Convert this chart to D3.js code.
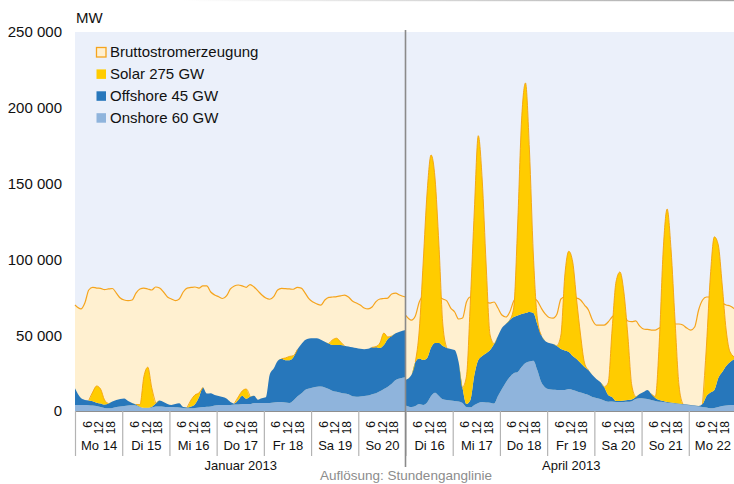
<!DOCTYPE html>
<html>
<head>
<meta charset="utf-8">
<script src="https://cdn.jsdelivr.net/npm/d3@7"></script>
<style>
body { margin: 0; background: #fff; }
svg { display: block; }
</style>
</head>
<body>
<svg id="chart" width="734" height="484"></svg>
<script>
// Stundenwerte in MW, je Tag die ungeraden Stunden 1, 3, ..., 23
const weekLabels = ["Januar 2013", "April 2013"];
const daysJan = ["Mo 14", "Di 15", "Mi 16", "Do 17", "Fr 18", "Sa 19", "So 20"];
const daysApr = ["Di 16", "Mi 17", "Do 18", "Fr 19", "Sa 20", "So 21", "Mo 22"];
const hourTicks = [6, 12, 18];
const yTicks = [0, 50000, 100000, 150000, 200000, 250000];
const legendLabels = ["Bruttostromerzeugung", "Solar 275 GW", "Offshore 45 GW", "Onshore 60 GW"];

const totalJan = [
  69900, 67300, 71200, 79800, 81600, 81100, 80900, 80100, 80500, 80800, 77800, 74500,
  73200, 72800, 73200, 77800, 80500, 81100, 80500, 79800, 81800, 81100, 78500, 75200,
  73900, 72800, 73900, 78500, 81100, 81500, 81800, 81100, 82500, 82500, 78500, 76500,
  75400, 74200, 75900, 80500, 82500, 83100, 82500, 81600, 83400, 81800, 79200, 76500,
  74500, 73700, 75400, 79800, 80900, 80700, 80500, 80300, 81500, 81100, 77800, 73900,
  71900, 70600, 69900, 73200, 74900, 75200, 75500, 75900, 76500, 75200, 72600, 71200,
  69900, 67900, 67300, 68600, 72200, 73900, 74200, 74500, 77200, 77800, 76500, 75200
];
const onshoreJan = [
  4000, 4000, 4000, 3800, 3600, 3300, 2600, 2000, 1800, 2000, 2600, 3000,
  3300, 3600, 3800, 3600, 2600, 2000, 2000, 2300, 3000, 3000, 2800, 2600,
  2600, 2400, 2300, 2000, 1800, 1800, 2000, 2300, 2600, 2800, 3000, 3600,
  4000, 4000, 4000, 4000, 4300, 4300, 4600, 4600, 4600, 5300, 5300, 5300,
  5300, 5300, 5600, 5900, 5900, 5600, 5300, 7000, 9500, 11500, 13900, 14800,
  15500, 16000, 16200, 15500, 14500, 13200, 12700, 12000, 11500, 11000, 9700, 9400,
  9600, 9900, 10200, 11000, 11700, 13000, 14500, 16000, 18000, 20400, 21400, 22200
];
const offshoreJan = [
  11000, 4500, 3300, 3200, 2900, 2200, 2400, 2300, 3200, 4300, 4700, 4900,
  4900, 3000, 1500, 700, 200, 200, 200, 500, 2000, 4000, 3200, 2000,
  1400, 2200, 2800, 600, 500, 1200, 2500, 6700, 12900, 8700, 8700, 6900,
  5900, 5200, 4200, 2000, 700, 3000, 5400, 3400, 4800, 4700, 2200, 3100,
  3700, 18700, 22400, 27100, 28600, 27900, 28200, 28500, 31000, 32500, 32900, 33000,
  32500, 32000, 30800, 30200, 30000, 30300, 30800, 31500, 31500, 31500, 32300, 32100,
  31400, 30800, 30800, 31000, 30300, 28500, 29000, 31500, 31500, 30900, 30900, 31200
];
const solarJan = [
  0, 0, 0, 0, 6000, 11000, 9500, 3000, 0, 0, 0, 0,
  0, 0, 0, 0, 1400, 20400, 26700, 12600, 0, 0, 0, 0,
  0, 0, 0, 0, 0, 4300, 6100, 2900, 0, 0, 0, 0,
  0, 0, 0, 0, 0, 2000, 3200, 6500, 0, 0, 0, 0,
  0, 0, 0, 0, 0, 1500, 2500, 1000, 0, 0, 0, 0,
  0, 0, 0, 0, 0, 3500, 4500, 2000, 0, 0, 0, 0,
  0, 0, 0, 0, 500, 3400, 7900, 1300, 0, 0, 0, 0
];

const totalApr = [
  63300, 60000, 62700, 71900, 75900, 76500, 76500, 75900, 75200, 73900, 72600, 67900,
  65300, 60700, 61300, 71900, 75200, 75200, 74500, 73200, 71900, 71200, 71900, 67900,
  63300, 62000, 65300, 72600, 75200, 75900, 75900, 75200, 74500, 72600, 67900, 64000,
  61700, 61300, 64000, 73900, 75200, 75200, 74500, 74500, 73200, 69900, 66600, 60000,
  56700, 56700, 56700, 58700, 62000, 64000, 64600, 63300, 59400, 58900, 59400, 56100,
  54100, 53800, 53400, 53400, 54700, 56100, 56700, 57400, 57400, 57400, 56700, 54700,
  53400, 55400, 66600, 73200, 75200, 75200, 74500, 73200, 71200, 69900, 69300, 66600
];
const onshoreApr = [
  3600, 2600, 3300, 4600, 4000, 5600, 9900, 12100, 9900, 7700, 7300, 6900,
  6600, 6300, 5300, 2600, 2400, 4000, 5300, 5900, 5600, 5500, 4900, 9900,
  14500, 18800, 22400, 24900, 25700, 29000, 31700, 32700, 33200, 27000, 19100, 15500,
  14300, 14000, 13900, 13900, 13900, 14500, 13900, 13100, 12200, 11400, 10600, 9200,
  8600, 7900, 6900, 6100, 6200, 5900, 5900, 6000, 6100, 6500, 7900, 8400,
  8200, 7900, 7300, 6600, 6100, 6000, 5500, 5200, 4900, 4600, 4300, 4000,
  3600, 3300, 3000, 2600, 2300, 1800, 2000, 2600, 3300, 3600, 4000, 4000
];
const offshoreApr = [
  16800, 21100, 29000, 30000, 29600, 29400, 32000, 32800, 35000, 35200, 34300, 34000,
  33600, 26000, 9900, 2000, 4900, 19700, 28300, 30400, 32500, 34700, 39300, 39600,
  40200, 38600, 37600, 37100, 37300, 35000, 32900, 32600, 31400, 30400, 31000, 30700,
  30600, 30200, 29000, 27000, 26000, 24400, 22400, 21200, 19500, 17600, 16400, 14500,
  12500, 11200, 8900, 4500, 3000, 700, 700, 900, 1200, 1100, 1300, 2800,
  4300, 6000, 3900, 2000, 1200, 600, 400, 400, 400, 300, 300, 300,
  400, 300, 300, 2000, 7600, 10400, 11900, 19200, 22400, 26100, 28300, 31000
];
const solarApr = [
  0, 0, 0, 18800, 64700, 109500, 127000, 108800, 64600, 13800, 0, 0,
  0, 0, 0, 18400, 65900, 108900, 148000, 116100, 58200, 9900, 0, 0,
  0, 0, 0, 6000, 59700, 127900, 151800, 106900, 38300, 3900, 0, 0,
  0, 0, 0, 9200, 49800, 66500, 62000, 38900, 18400, 2700, 0, 0,
  0, 0, 0, 7900, 44200, 78500, 85100, 71600, 42800, 9500, 0, 0,
  0, 0, 0, 1000, 38200, 99600, 127300, 100600, 54700, 12200, 0, 0,
  0, 0, 0, 0, 33600, 77500, 101000, 87700, 57400, 23700, 6600, 0
];

const weeks = [
  {label: weekLabels[0], days: daysJan, total: totalJan, onshore: onshoreJan, offshore: offshoreJan, solar: solarJan},
  {label: weekLabels[1], days: daysApr, total: totalApr, onshore: onshoreApr, offshore: offshoreApr, solar: solarApr}
];

const width = 734, height = 484;
const font = "'Liberation Sans', Arial, Helvetica, sans-serif";
const colors = {
  plot: "#ebf0fa", cream: "#fff0d0", line: "#f5a41d",
  solar: "#ffcc00", solarEdge: "#f3a20c", offshore: "#2777bb", onshore: "#8fb4dc"
};

const x = d3.scaleLinear().domain([0, 336]).range([75, 736]);
const y = d3.scaleLinear().domain([0, 250000]).range([411, 32]);
const fmt = d3.formatLocale({decimal: ",", thousands: " ", grouping: [3], currency: ["", " €"]}).format(",");

const svg = d3.select("#chart").attr("font-family", font);

// graue Linie oben, nach links auslaufend
const grad = svg.append("defs").append("linearGradient").attr("id", "topline");
grad.append("stop").attr("offset", "25%").attr("stop-color", "#fff");
grad.append("stop").attr("offset", "100%").attr("stop-color", "#a6a6a6");
svg.append("rect").attr("x", 0).attr("y", 0).attr("width", width).attr("height", 1.2).attr("fill", "url(#topline)");

svg.append("rect")
  .attr("x", x(0)).attr("y", y(250000))
  .attr("width", x(336) - x(0)).attr("height", y(0) - y(250000))
  .attr("fill", colors.plot);

const hours = d3.range(84).map(i => Math.floor(i / 12) * 24 + (i % 12) * 2 + 1);

weeks.forEach((w, wi) => {
  const off = wi * 168;
  const rows = hours.map((h, i) => ({
    t: off + h, total: w.total[i], onshore: w.onshore[i], offshore: w.offshore[i], solar: w.solar[i]
  }));
  const n = rows.length;
  const px = (t, i) => i === 0 ? x(off) : i === n - 1 ? x(off + 168) : x(t);

  const g = svg.append("g");

  g.append("path")
    .datum(rows)
    .attr("fill", colors.cream)
    .attr("d", d3.area().curve(d3.curveMonotoneX)
      .x((d, i) => px(d.t, i)).y0(y(0)).y1(d => y(d.total)));

  g.append("path")
    .datum(rows)
    .attr("fill", "none")
    .attr("stroke", colors.line)
    .attr("stroke-width", 1.2)
    .attr("d", d3.line().curve(d3.curveMonotoneX)
      .x((d, i) => px(d.t, i)).y(d => y(d.total)));

  const stacked = d3.stack().keys(["onshore", "offshore", "solar"])(rows);
  const area = d3.area().curve(d3.curveMonotoneX)
    .x((d, i) => px(d.data.t, i)).y0(d => y(d[0])).y1(d => y(d[1]));

  g.selectAll(".layer")
    .data(stacked)
    .join("path")
    .attr("class", "layer")
    .attr("fill", d => colors[d.key])
    .attr("d", area);

  const s = w.solar;
  g.append("path")
    .datum(stacked[2])
    .attr("fill", "none")
    .attr("stroke", colors.solarEdge)
    .attr("stroke-width", 0.9)
    .attr("d", d3.line().curve(d3.curveMonotoneX)
      .defined((d, i) => s[i] > 0 || (s[i - 1] || 0) > 0 || (s[i + 1] || 0) > 0)
      .x((d, i) => px(d.data.t, i)).y(d => y(d[1])));
});

// y-Achse
svg.append("g")
  .attr("transform", `translate(${x(0)},0)`)
  .call(d3.axisLeft(y).tickValues(yTicks).tickSize(0).tickPadding(13).tickFormat(fmt))
  .call(g => g.select(".domain").remove())
  .call(g => g.attr("font-family", font).attr("font-size", 15))
  .call(g => g.selectAll("text").attr("fill", "#111"));

svg.append("text")
  .attr("x", 76).attr("y", 23)
  .attr("font-size", 15).attr("fill", "#111")
  .text("MW");

// x-Achse: Tagesgrenzen
svg.append("g")
  .attr("transform", `translate(0,${y(0)})`)
  .call(d3.axisBottom(x).tickValues(d3.range(0, 337, 24)).tickSize(45).tickSizeOuter(0).tickFormat(""))
  .call(g => g.select(".domain").attr("stroke", "#8f8f8f").attr("stroke-width", 1.2))
  .call(g => g.selectAll(".tick line").attr("stroke", "#b3b3b3").attr("stroke-width", 1.2));

// Stunden 6, 12, 18
const hourVals = d3.range(14).flatMap(d => hourTicks.map(h => d * 24 + h));
svg.append("g")
  .attr("transform", `translate(0,${y(0)})`)
  .call(d3.axisBottom(x).tickValues(hourVals).tickSize(0).tickFormat(d => d % 24))
  .call(g => g.select(".domain").remove())
  .call(g => g.attr("font-family", font).attr("font-size", 12))
  .call(g => g.selectAll("text")
    .attr("transform", "rotate(-90)")
    .attr("text-anchor", "end")
    .attr("x", -10).attr("y", 0).attr("dy", "0.35em")
    .attr("fill", "#111"));

// Tage
const dayNames = weeks.flatMap(w => w.days);
svg.append("g")
  .attr("transform", `translate(0,${y(0)})`)
  .call(d3.axisBottom(x).tickValues(d3.range(14).map(d => d * 24 + 12)).tickSize(0)
    .tickFormat((d, i) => dayNames[i]))
  .call(g => g.select(".domain").remove())
  .call(g => g.attr("font-family", font).attr("font-size", 13))
  .call(g => g.selectAll("text").attr("y", 38.5).attr("dy", 0).attr("fill", "#111"));

// Monate
svg.append("g")
  .attr("transform", `translate(0,${y(0)})`)
  .call(d3.axisBottom(x).tickValues([84, 252]).tickSize(0).tickFormat((d, i) => weeks[i].label))
  .call(g => g.select(".domain").remove())
  .call(g => g.attr("font-family", font).attr("font-size", 13))
  .call(g => g.selectAll("text").attr("y", 59).attr("dy", 0).attr("fill", "#111"));

// Trennlinie zwischen den Wochen
svg.append("line")
  .attr("x1", x(168)).attr("x2", x(168))
  .attr("y1", 30).attr("y2", 467)
  .attr("stroke", "#8a8a8a").attr("stroke-width", 1.6);

svg.append("text")
  .attr("x", 406).attr("y", 480)
  .attr("text-anchor", "middle")
  .attr("font-size", 13.5).attr("fill", "#8c8c8c")
  .text("Auflösung: Stundenganglinie");

// Legende
const legendFill = [colors.cream, colors.solar, colors.offshore, colors.onshore];
const legend = svg.append("g")
  .attr("font-size", 15)
  .selectAll("g")
  .data(legendLabels)
  .join("g")
  .attr("transform", (d, i) => `translate(96.5,${47.5 + i * 21.9})`);

legend.append("rect")
  .attr("width", 9.5).attr("height", 9.5)
  .attr("fill", (d, i) => legendFill[i])
  .attr("stroke", (d, i) => i === 0 ? colors.line : "none")
  .attr("stroke-width", 1.3);

legend.append("text")
  .attr("x", 13.5).attr("y", 9.5)
  .attr("fill", "#111")
  .text(d => d);
</script>
</body>
</html>
